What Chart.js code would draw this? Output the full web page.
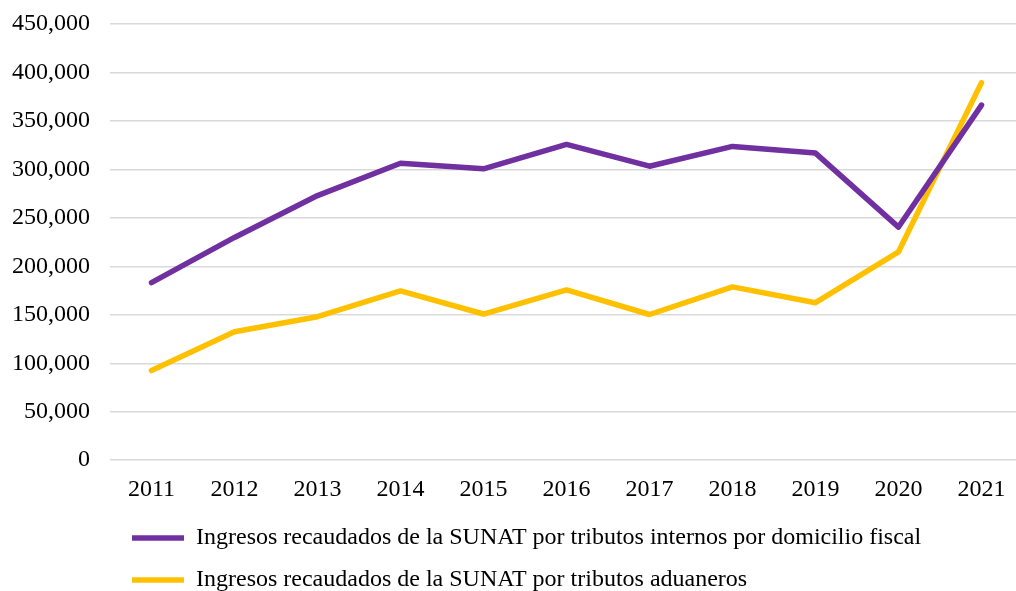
<!DOCTYPE html>
<html>
<head>
<meta charset="utf-8">
<script src="https://cdn.jsdelivr.net/npm/chart.js@4/dist/chart.umd.min.js"></script>
<style>
  html, body { margin: 0; padding: 0; background: #fff; overflow: hidden; }
  #wrap { position: relative; width: 1023px; height: 602px; }
</style>
</head>
<body>
<div id="wrap"><canvas id="lineCanvas"></canvas></div>
<script>
const colorPurple = '#7030a0';
const colorGold = '#ffc000';
const colorGrid = '#d9d9d9';
const fontFamily = '"Liberation Serif", "Times New Roman", serif';

// ================ DATA =====================================
const years = ['2011', '2012', '2013', '2014', '2015', '2016', '2017', '2018', '2019', '2020', '2021'];
const internos = [183200, 229800, 273000, 306400, 300600, 325800, 303300, 323700, 316800, 240500, 366300];
const aduaneros = [92500, 132500, 148000, 174600, 150800, 175700, 150300, 178800, 162500, 215000, 389500];
const labelInternos = 'Ingresos recaudados de la SUNAT por tributos internos por domicilio fiscal';
const labelAduaneros = 'Ingresos recaudados de la SUNAT por tributos aduaneros';
const yMax = 450000;
const yStep = 50000;

// nudge the legend a little to the right, like the original
const legendShift = {
    id: 'legendShift',
    afterLayout(chart) {
        chart.legend.left += 4;
        chart.legend.right += 4;
    }
};

// ================ LINE CHART =====================================
const lineData = {
    type: 'line',
    data: {
        labels: years,
        datasets: [{
            label: labelInternos,
            data: internos,
            borderColor: colorPurple,
            backgroundColor: colorPurple,
            borderWidth: 5.5
        }, {
            label: labelAduaneros,
            data: aduaneros,
            borderColor: colorGold,
            backgroundColor: colorGold,
            borderWidth: 5.5
        }]
    },
    options: {
        responsive: true,
        maintainAspectRatio: false,
        animation: false,
        layout: {
            padding: { left: 12, top: 24, right: 0, bottom: 0 }
        },
        elements: {
            line: { tension: 0, borderCapStyle: 'round', borderJoinStyle: 'round' },
            point: { radius: 0, hoverRadius: 0 }
        },
        scales: {
            x: {
                offset: true,
                grid: { display: false },
                border: { display: false },
                ticks: {
                    color: '#000',
                    padding: 7,
                    maxRotation: 0,
                    autoSkip: false,
                    font: { family: fontFamily, size: 24 }
                },
                afterFit: (axis) => { axis.height -= 3; }
            },
            y: {
                min: 0,
                max: yMax,
                grid: { color: colorGrid, lineWidth: 1.5, drawTicks: false },
                border: { display: false },
                ticks: {
                    stepSize: yStep,
                    color: '#000',
                    padding: 20,
                    font: { family: fontFamily, size: 24 },
                    callback: (v) => v.toLocaleString('en-US')
                },
                afterFit: (axis) => {
                    axis.width -= 20;
                    axis.paddingTop = 0;
                    axis.paddingBottom = 0;
                }
            }
        },
        plugins: {
            tooltip: { enabled: false },
            legend: {
                position: 'bottom',
                align: 'start',
                fullSize: false,
                labels: {
                    usePointStyle: true,
                    pointStyle: 'line',
                    pointStyleWidth: 52,
                    padding: 18,
                    color: '#000',
                    font: { family: fontFamily, size: 24 }
                }
            }
        }
    },
    plugins: [legendShift]
};

const lineChart = new Chart(document.getElementById('lineCanvas'), lineData);
</script>
</body>
</html>
